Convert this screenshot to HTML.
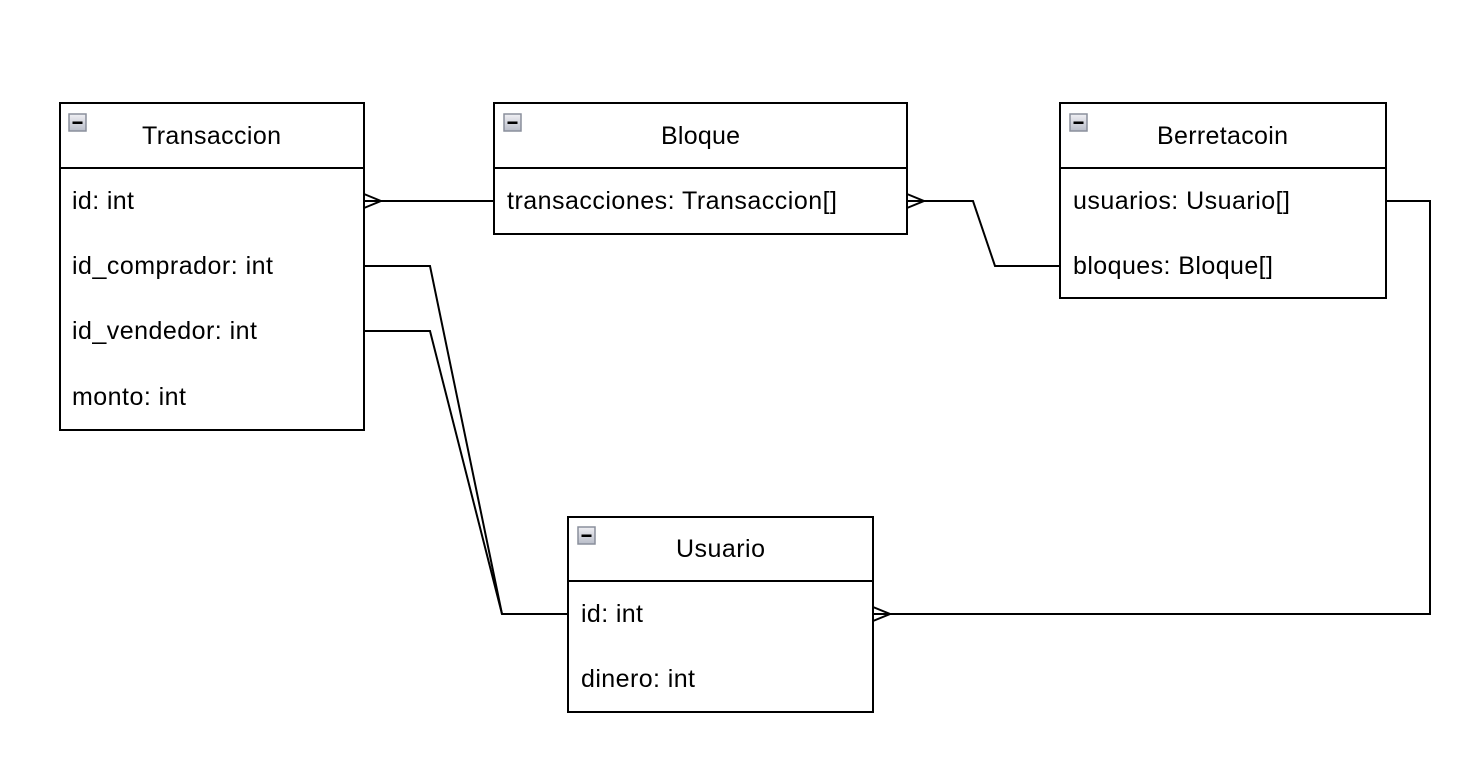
<!DOCTYPE html>
<html><head><style>body{margin:0;background:#fff}</style></head><body>
<svg width="1477" height="773" xmlns="http://www.w3.org/2000/svg" font-family="Liberation Sans, Arial, sans-serif" font-size="25">
<defs>
<linearGradient id="g" x1="0" y1="0" x2="0" y2="1"><stop offset="0" stop-color="#f0f0f4"/><stop offset="1" stop-color="#b8bcc8"/></linearGradient>
<g id="ic"><rect x="0" y="0" width="17" height="17" fill="url(#g)" stroke="#8a8f9c" stroke-width="1.5"/><rect x="3.5" y="7.5" width="10" height="2.5" fill="#000"/></g>
</defs>
<g fill="none" stroke="#000" stroke-width="2">
<rect x="60" y="103" width="304" height="327" fill="#fff"/><line x1="60" y1="168" x2="364" y2="168"/>
<rect x="494" y="103" width="413" height="131" fill="#fff"/><line x1="494" y1="168" x2="907" y2="168"/>
<rect x="1060" y="103" width="326" height="195" fill="#fff"/><line x1="1060" y1="168" x2="1386" y2="168"/>
<rect x="568" y="517" width="305" height="195" fill="#fff"/><line x1="568" y1="581" x2="873" y2="581"/>
<path d="M364 201H494M364 194L381 201L364 208"/>
<path d="M907 201H973L995 266H1060M907 194L924 201L907 208"/>
<path d="M1386 201H1430V614H873M873 607L890 614L873 621"/>
<path d="M364 266H430L502 614H568"/>
<path d="M364 331H430L502 614"/>
</g>
<use href="#ic" x="69" y="114"/><use href="#ic" x="504" y="114"/><use href="#ic" x="1070" y="114"/><use href="#ic" x="578" y="527"/>
<text x="142" y="144" textLength="139">Transaccion</text>
<text x="661" y="144" textLength="79">Bloque</text>
<text x="1157" y="144" textLength="131">Berretacoin</text>
<text x="676" y="557" textLength="89">Usuario</text>
<text x="72" y="209" textLength="62">id: int</text>
<text x="72" y="274" textLength="201">id_comprador: int</text>
<text x="72" y="339" textLength="185">id_vendedor: int</text>
<text x="72" y="405" textLength="114">monto: int</text>
<text x="507" y="209" textLength="330">transacciones: Transaccion[]</text>
<text x="1073" y="209" textLength="217">usuarios: Usuario[]</text>
<text x="1073" y="274" textLength="200">bloques: Bloque[]</text>
<text x="581" y="622" textLength="62">id: int</text>
<text x="581" y="687" textLength="114">dinero: int</text>
</svg>
</body></html>
